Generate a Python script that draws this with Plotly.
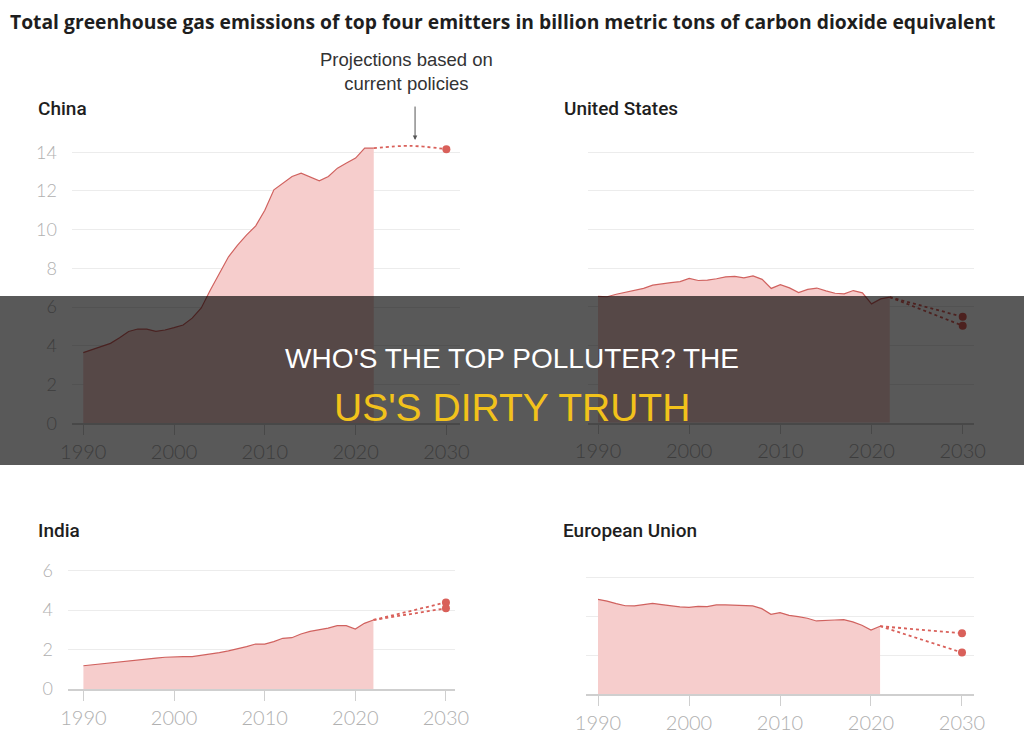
import plotly.graph_objects as go

# ---------------- data ----------------
years_hist = list(range(1990, 2023))
years_eu = list(range(1990, 2022))

china = [3.65, 3.80, 3.95, 4.13, 4.42, 4.74, 4.87, 4.86, 4.75, 4.82, 4.94, 5.08, 5.43,
         5.96, 6.89, 7.75, 8.60, 9.20, 9.73, 10.20, 11.00, 12.06, 12.40, 12.75, 12.92,
         12.71, 12.52, 12.75, 13.18, 13.44, 13.70, 14.21, 14.21]
china_proj_years = [2022, 2026, 2030]
china_proj = [14.21, 14.33, 14.16]

us = [6.54, 6.52, 6.65, 6.75, 6.85, 6.95, 7.12, 7.20, 7.25, 7.30, 7.47, 7.36, 7.38,
      7.45, 7.55, 7.57, 7.50, 7.60, 7.42, 6.95, 7.14, 6.98, 6.74, 6.90, 6.97, 6.82,
      6.70, 6.67, 6.84, 6.72, 6.15, 6.41, 6.50]
us_proj_2030 = [5.48, 5.02]

india = [1.18, 1.23, 1.28, 1.32, 1.37, 1.44, 1.50, 1.54, 1.57, 1.61, 1.64, 1.64, 1.64,
         1.70, 1.77, 1.84, 1.93, 2.03, 2.15, 2.28, 2.28, 2.40, 2.57, 2.60, 2.79, 2.92,
         2.99, 3.09, 3.21, 3.21, 3.04, 3.33, 3.50]
india_proj_2030 = [4.39, 4.09]

eu = [4.87, 4.78, 4.65, 4.54, 4.53, 4.60, 4.66, 4.60, 4.54, 4.48, 4.46, 4.51, 4.49,
      4.58, 4.58, 4.56, 4.56, 4.53, 4.39, 4.10, 4.19, 4.05, 3.98, 3.90, 3.76, 3.80,
      3.81, 3.83, 3.71, 3.54, 3.29, 3.49]
eu_proj_2030 = [3.13, 2.14]

x_ticks = [1990, 2000, 2010, 2020, 2030]
china_yticks = [0, 2, 4, 6, 8, 10, 12, 14]
india_yticks = [0, 2, 4, 6]

title_text = "Total greenhouse gas emissions of top four emitters in billion metric tons of carbon dioxide equivalent"
panel_titles = ["China", "United States", "India", "European Union"]
proj_note = "Projections based on<br>current policies"
banner_line1 = "WHO'S THE TOP POLLUTER? THE"
banner_line2 = "US'S DIRTY TRUTH"

# ---------------- styles ----------------
FILL = "#f6cdcc"
LINE = "#d0625f"
PROJ = "#d9605a"
GRID = "#ececec"
AXIS = "#cfcfcf"
TICKFONT = dict(family="Lato", size=20, color="#b0b0b0", weight=300)
W, H = 1024, 754

fig = go.Figure()

def add_panel(n, years, vals, proj_years_list, proj_vals_list, spline=False):
    xa = "x" if n == 1 else f"x{n}"
    ya = "y" if n == 1 else f"y{n}"
    fig.add_trace(go.Scatter(x=years, y=vals, mode="lines", fill="tozeroy",
                             fillcolor=FILL, line=dict(color=LINE, width=1.2),
                             xaxis=xa, yaxis=ya, hoverinfo="skip", showlegend=False))
    for py, pv in zip(proj_years_list, proj_vals_list):
        fig.add_trace(go.Scatter(x=py, y=pv, mode="lines",
                                 line=dict(color=PROJ, width=1.8, dash="dot",
                                           shape="spline" if spline else "linear"),
                                 xaxis=xa, yaxis=ya, hoverinfo="skip", showlegend=False))
        fig.add_trace(go.Scatter(x=[py[-1]], y=[pv[-1]], mode="markers",
                                 marker=dict(color=PROJ, size=8),
                                 xaxis=xa, yaxis=ya, hoverinfo="skip", showlegend=False))

add_panel(1, years_hist, china, [china_proj_years], [china_proj], spline=True)
add_panel(2, years_hist, us, [[2022, 2030], [2022, 2030]],
          [[us[-1], us_proj_2030[0]], [us[-1], us_proj_2030[1]]])
add_panel(3, years_hist, india, [[2022, 2030], [2022, 2030]],
          [[india[-1], india_proj_2030[0]], [india[-1], india_proj_2030[1]]])
add_panel(4, years_eu, eu, [[2021, 2030], [2021, 2030]],
          [[eu[-1], eu_proj_2030[0]], [eu[-1], eu_proj_2030[1]]])

def px_dom(a, b):
    return [a / W, b / W]

def py_dom(bottom, top):
    return [1 - bottom / H, 1 - top / H]

def xaxis(dom, rng, anchor):
    return dict(domain=dom, range=rng, anchor=anchor, tickvals=x_ticks, ticks="outside",
                ticklen=10, tickcolor=AXIS, showline=True, linecolor=AXIS, linewidth=1.5,
                showgrid=False, zeroline=False, tickfont=TICKFONT, fixedrange=True,
                automargin=False)

def yaxis(dom, rng, ticks, labels, anchor):
    return dict(domain=dom, range=rng, anchor=anchor, tickvals=ticks, showgrid=True,
                gridcolor=GRID, gridwidth=1, zeroline=False, showline=False, ticks="",
                showticklabels=labels,
                tickfont=dict(family="Lato", size=18, color="#b0b0b0", weight=300),
                ticklabelstandoff=14, fixedrange=True, automargin=False)

fig.update_layout(
    width=W, height=H, autosize=False,
    margin=dict(l=0, r=0, t=0, b=0, pad=0, autoexpand=False),
    paper_bgcolor="white", plot_bgcolor="white", showlegend=False,
    xaxis=xaxis(px_dom(72, 460), [1988.76, 2031.5], "y"),
    yaxis=yaxis(py_dom(423.3, 132.9), [0, 15], china_yticks, True, "x"),
    xaxis2=xaxis(px_dom(588, 974), [1988.9, 2031.24], "y2"),
    yaxis2=yaxis(py_dom(422.7, 132.9), [0, 15], china_yticks, False, "x2"),
    xaxis3=xaxis(px_dom(68, 455), [1988.3, 2031.0], "y3"),
    yaxis3=yaxis(py_dom(689, 560.8), [0, 6.5], india_yticks, True, "x3"),
    xaxis4=xaxis(px_dom(586, 974), [1988.68, 2031.32], "y4"),
    yaxis4=yaxis(py_dom(694.3, 567.5), [0, 6.5], india_yticks, False, "x4"),
)

ann = []
ann.append(dict(text=f"<b>{title_text}</b>", x=8 / W, y=1 - 21 / H, xref="paper", yref="paper",
                xanchor="left", yanchor="middle", showarrow=False,
                font=dict(family="Open Sans", size=19.3, color="#1e1e1e")))
for t, (x0, y0) in zip(panel_titles, [(36, 108), (562, 108), (36, 530), (561, 530)]):
    ann.append(dict(text=t, x=x0 / W, y=1 - y0 / H, xref="paper", yref="paper",
                    xanchor="left", yanchor="middle", showarrow=False,
                    font=dict(family="Roboto", size=19, color="#1e1e1e", weight=500)))
ann.append(dict(text=proj_note, x=406 / W, y=1 - 72 / H, xref="paper", yref="paper",
                xanchor="center", yanchor="middle", showarrow=False, align="center",
                font=dict(family="Liberation Sans", size=18.5, color="#333")))
ann.append(dict(text="", x=2026.55, y=14.63, xref="x", yref="y", showarrow=True,
                ax=0, ay=-35, arrowhead=2, arrowsize=0.9, arrowwidth=1, arrowcolor="#555"))
ann.append(dict(text=banner_line1, x=0.5, y=1 - 358 / H, xref="paper", yref="paper",
                xanchor="center", yanchor="middle", showarrow=False,
                font=dict(family="Liberation Sans", size=28, color="white")))
ann.append(dict(text=banner_line2, x=0.5, y=1 - 407 / H, xref="paper", yref="paper",
                xanchor="center", yanchor="middle", showarrow=False,
                font=dict(family="Liberation Sans", size=39, color="#f2c21b")))
fig.update_layout(annotations=ann)

fig.add_shape(type="rect", xref="paper", yref="paper", x0=0, x1=1,
              y0=1 - 465 / H, y1=1 - 296 / H, fillcolor="rgba(0,0,0,0.65)",
              line=dict(width=0), layer="above")

fig.write_html("out.html")
